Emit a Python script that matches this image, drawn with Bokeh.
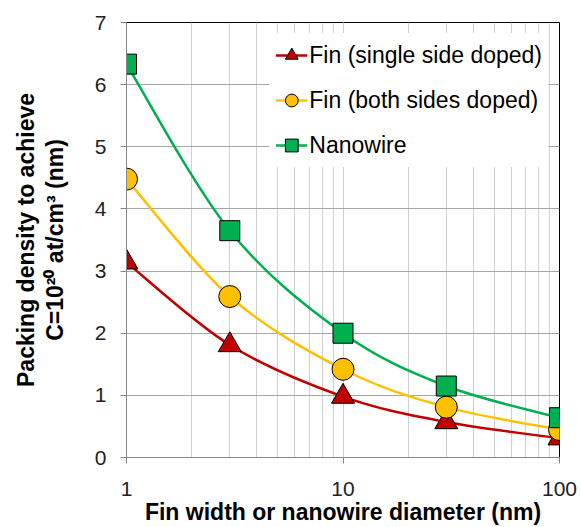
import numpy as np
from bokeh.plotting import figure
from bokeh.models import Legend, LegendItem, FixedTicker, LogTicker, Range1d
from bokeh.embed import file_html
from bokeh.resources import INLINE

# ---- data ----
widths = [1, 3, 10, 30, 100]
fin_single = [3.14, 1.81, 0.98, 0.57, 0.31]
fin_both = [4.48, 2.59, 1.42, 0.81, 0.45]
nanowire = [6.33, 3.65, 2.00, 1.15, 0.64]
labels = ["Fin (single side doped)", "Fin (both sides doped)", "Nanowire"]
y_ticks = [0, 1, 2, 3, 4, 5, 6, 7]
x_ticks = [1, 10, 100]

FONT = "Liberation Sans"

p = figure(width=581, height=527, x_axis_type="log", output_backend="svg",
           toolbar_location=None, x_range=Range1d(1, 100), y_range=Range1d(0, 7),
           min_border_left=126, min_border_right=22, min_border_top=22, min_border_bottom=69)
p.outline_line_color = "black"
p.outline_line_width = 1
p.background_fill_color = "white"
p.border_fill_color = "white"

# grids
p.ygrid.grid_line_color = "#a6a6a6"
p.ygrid.ticker = FixedTicker(ticks=y_ticks)
p.xgrid.grid_line_color = "#d0d0d0"
p.xgrid.minor_grid_line_color = "#d0d0d0"
p.xgrid.ticker = LogTicker(num_minor_ticks=10)

# axes
for ax in (p.xaxis[0], p.yaxis[0]):
    ax.axis_line_color = "#868686"
    ax.major_tick_line_color = "#868686"
    ax.minor_tick_line_color = None
    ax.major_tick_in = 0
    ax.major_tick_out = 6
    ax.major_label_text_font = FONT
    ax.major_label_text_font_size = "21px"
    ax.major_label_text_color = "#222222"
    ax.axis_label_text_font = FONT
    ax.axis_label_text_font_size = "23px"
    ax.axis_label_text_font_style = "bold"
    ax.axis_label_text_color = "black"
    ax.axis_label_text_line_height = 1.1
p.xaxis.ticker = FixedTicker(ticks=x_ticks)
p.xaxis.major_label_overrides = {1: "1", 10: "10", 100: "100"}
p.yaxis.ticker = FixedTicker(ticks=y_ticks)
p.xaxis.major_label_standoff = 18
p.yaxis.major_label_standoff = 14
p.xaxis.axis_label = "Fin width or nanowire diameter (nm)"
p.yaxis.axis_label = "Packing density to achieve\nC=10²⁰ at/cm³ (nm)"
p.xaxis.axis_label_standoff = 0
p.yaxis.axis_label_standoff = 24


def smooth(xs, ys):
    lx = np.log10(np.array(xs, dtype=float))
    yy = np.array(ys, dtype=float)
    pts = np.column_stack([lx, yy])
    n = len(pts)
    segs = {k: [] for k in ["x0", "y0", "x1", "y1", "cx0", "cy0", "cx1", "cy1"]}
    for i in range(n - 1):
        p0 = pts[i - 1] if i > 0 else pts[i]
        p1 = pts[i]
        p2 = pts[i + 1]
        p3 = pts[i + 2] if i + 2 < n else pts[i + 1]
        c1 = p1 + (p2 - p0) / 6.0
        c2 = p2 - (p3 - p1) / 6.0
        segs["x0"].append(10 ** p1[0]); segs["y0"].append(p1[1])
        segs["x1"].append(10 ** p2[0]); segs["y1"].append(p2[1])
        segs["cx0"].append(10 ** c1[0]); segs["cy0"].append(c1[1])
        segs["cx1"].append(10 ** c2[0]); segs["cy1"].append(c2[1])
    return segs


series = [
    (fin_single, "#C00000", "triangle", 23),
    (fin_both, "#FFC000", "circle", 22),
    (nanowire, "#00B050", "square", 20),
]
items = []
for (vals, color, marker, size), lab in zip(series, labels):
    seg = smooth(widths, vals)
    b = p.bezier(line_color=color, line_width=2.5, **seg)
    s = p.scatter(widths, vals, marker=marker, size=size, fill_color=color,
                  line_color="black", line_width=1)
    items.append((lab, b, s))

lines = [it[1] for it in items]
marks = [it[2] for it in items]
p.renderers = lines + marks

legend = Legend(items=[LegendItem(label=lab, renderers=[b, s]) for lab, b, s in items],
                location="top_right", margin=11, padding=6, spacing=13,
                glyph_width=32, glyph_height=32, label_height=32,
                label_standoff=2, label_text_font=FONT, label_text_font_size="23px",
                label_text_color="black", border_line_alpha=0,
                background_fill_color="white", background_fill_alpha=1)
p.add_layout(legend)

open("out.html", "w").write(file_html(p, INLINE))
